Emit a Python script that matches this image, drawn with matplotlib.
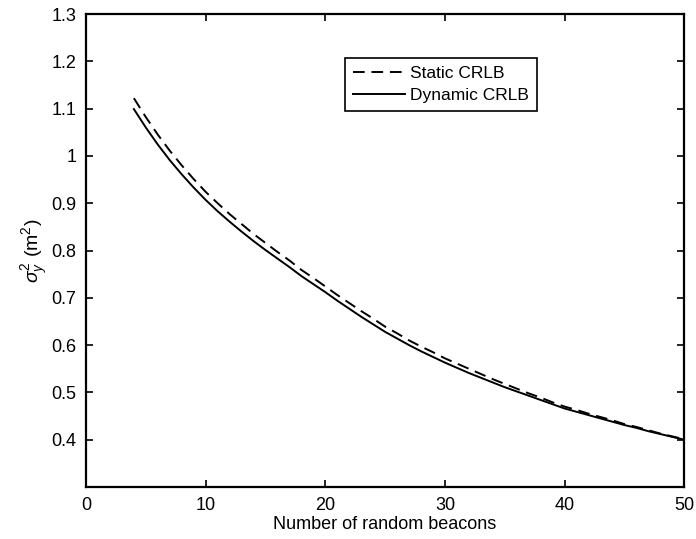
import numpy as np
import matplotlib
matplotlib.use("Agg")
import matplotlib.pyplot as plt

plt.rcParams["font.family"] = ["Liberation Sans", "DejaVu Sans"]
plt.rcParams["mathtext.fontset"] = "custom"
plt.rcParams["mathtext.rm"] = "Liberation Sans"
plt.rcParams["mathtext.it"] = "Liberation Sans:italic"

# Datos
beacons = list(range(4, 51))
static_crlb = [1.122, 1.082, 1.045, 1.011, 0.980, 0.951, 0.924, 0.900, 0.877, 0.856,
               0.835, 0.816, 0.797, 0.779, 0.759, 0.742, 0.724, 0.706, 0.689, 0.672,
               0.656, 0.639, 0.625, 0.610, 0.597, 0.585, 0.572, 0.561, 0.550, 0.539,
               0.528, 0.518, 0.508, 0.498, 0.489, 0.479, 0.470, 0.463, 0.455, 0.448,
               0.441, 0.433, 0.427, 0.420, 0.413, 0.407, 0.401]
dynamic_crlb = [1.099, 1.060, 1.024, 0.991, 0.961, 0.933, 0.907, 0.883, 0.861, 0.840,
                0.820, 0.801, 0.783, 0.765, 0.746, 0.729, 0.712, 0.694, 0.677, 0.660,
                0.644, 0.628, 0.614, 0.600, 0.587, 0.575, 0.563, 0.552, 0.541, 0.531,
                0.521, 0.511, 0.502, 0.493, 0.484, 0.475, 0.466, 0.459, 0.452, 0.445,
                0.438, 0.431, 0.425, 0.418, 0.412, 0.406, 0.400]

fig = plt.figure(figsize=(6.96, 5.39), dpi=100)
ax = fig.add_axes([0.1236, 0.0965, 0.8594, 0.8775])

ax.plot(beacons, static_crlb, color="black", linestyle=(0, (6, 3.5)), linewidth=1.4,
        label="Static CRLB")
ax.plot(beacons, dynamic_crlb, color="black", linestyle="-", linewidth=1.4,
        label="Dynamic CRLB")

ax.set_xlim(0, 50)
ax.set_ylim(0.3, 1.3)
ax.set_xticks([0, 10, 20, 30, 40, 50])
ax.set_yticks(np.round(np.arange(0.4, 1.31, 0.1), 1))
ax.set_yticklabels(["0.4", "0.5", "0.6", "0.7", "0.8", "0.9", "1", "1.1", "1.2", "1.3"])
ax.tick_params(direction="in", length=5, width=1.2, top=True, right=True,
               labelsize=13, pad=7)
for s in ax.spines.values():
    s.set_linewidth(1.6)

ax.set_xlabel("Number of random beacons", fontsize=13, labelpad=2)
ax.set_ylabel(r"$\sigma_y^2$ (m$^2$)", fontsize=14, labelpad=1)

leg = ax.legend(loc="upper left", bbox_to_anchor=(0.433, 0.907), borderaxespad=0,
                fontsize=12.5, fancybox=False, framealpha=1, edgecolor="black",
                handlelength=3.0, handletextpad=0.3, borderpad=0.45, labelspacing=0.4)
leg.get_frame().set_linewidth(1.2)

fig.savefig("out.png", dpi=100)
